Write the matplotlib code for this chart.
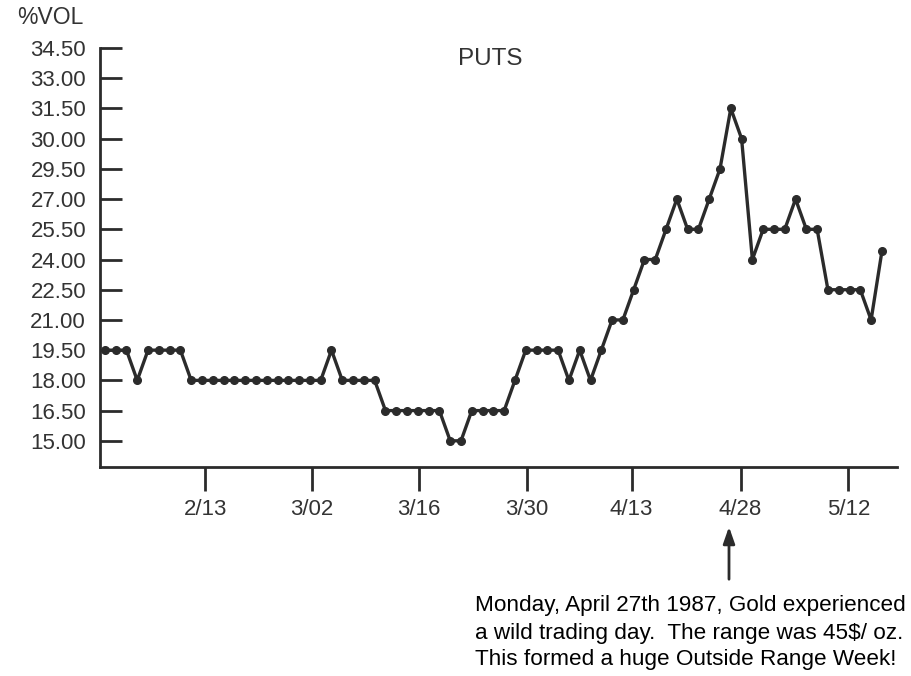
import matplotlib
matplotlib.use("Agg")
import matplotlib.pyplot as plt

plt.rcParams['font.family'] = ['Liberation Sans', 'DejaVu Sans']

# implied volatility of gold puts, one point per trading day
vol = [19.5, 19.5, 19.5, 18.0, 19.5, 19.5, 19.5, 19.5,
       18.0, 18.0, 18.0, 18.0, 18.0, 18.0, 18.0, 18.0, 18.0, 18.0, 18.0, 18.0, 18.0,
       19.5, 18.0, 18.0, 18.0, 18.0,
       16.5, 16.5, 16.5, 16.5, 16.5, 16.5, 15.0, 15.0,
       16.5, 16.5, 16.5, 16.5, 18.0,
       19.5, 19.5, 19.5, 19.5, 18.0, 19.5, 18.0, 19.5,
       21.0, 21.0, 22.5, 24.0, 24.0, 25.5, 27.0, 25.5, 25.5, 27.0, 28.5,
       31.5, 30.0, 24.0, 25.5, 25.5, 25.5, 27.0, 25.5, 25.5,
       22.5, 22.5, 22.5, 22.5, 21.0, 24.4]

ytick_vals = [34.5, 33.0, 31.5, 30.0, 28.5, 27.0, 25.5, 24.0, 22.5, 21.0, 19.5, 18.0, 16.5, 15.0]
ytick_labels = ['34.50', '33.00', '31.50', '30.00', '29.50', '27.00', '25.50',
                '24.00', '22.50', '21.00', '19.50', '18.00', '16.50', '15.00']
xtick_pos = [9.3, 19.2, 29.1, 39.1, 48.8, 58.9, 68.9]
xtick_labels = ['2/13', '3/02', '3/16', '3/30', '4/13', '4/28', '5/12']

note = ["Monday, April 27th 1987, Gold experienced",
        "a wild trading day.  The range was 45$/ oz.",
        "This formed a huge Outside Range Week!"]

ink = '#2b2b2b'
fig = plt.figure(figsize=(9.11, 6.76), dpi=100)
ax = fig.add_axes([100/911, 1 - 467/676, 797/911, 419/676])

ax.plot(range(len(vol)), vol, color=ink, lw=2.4, marker='o', ms=5.5)

ax.set_xlim(-0.45, 73.4)
ax.set_ylim(13.7, 34.5)
ax.spines['top'].set_visible(False)
ax.spines['right'].set_visible(False)
for s in ['left', 'bottom']:
    ax.spines[s].set_color(ink)
    ax.spines[s].set_linewidth(2)

ax.set_yticks(ytick_vals)
ax.set_yticklabels(ytick_labels)
ax.set_xticks(xtick_pos)
ax.set_xticklabels(xtick_labels)
ax.tick_params(axis='y', direction='in', length=16, width=2, color=ink,
               pad=10, labelsize=16, labelcolor='#333333')
ax.tick_params(axis='x', direction='out', length=17, width=2, color=ink,
               pad=6, labelsize=16, labelcolor='#333333')

fig.text(50/911, 1 - 18/676, '%VOL', fontsize=16.5, color='#333333', ha='center', va='center')
fig.text(490/911, 1 - 59/676, 'PUTS', fontsize=17.5, color='#333333', ha='center', va='center')

ax.annotate('', xy=(729/911, 1 - 524/676), xytext=(729/911, 1 - 582/676),
            xycoords='figure fraction', textcoords='figure fraction',
            arrowprops=dict(arrowstyle='-|>,head_length=1.0,head_width=0.35',
                            color=ink, lw=2))

for i, line in enumerate(note):
    fig.text(475/911, 1 - (606 + 27*i)/676, line, fontsize=16.2,
             color='black', ha='left', va='center')

fig.savefig('out.png', dpi=100)
